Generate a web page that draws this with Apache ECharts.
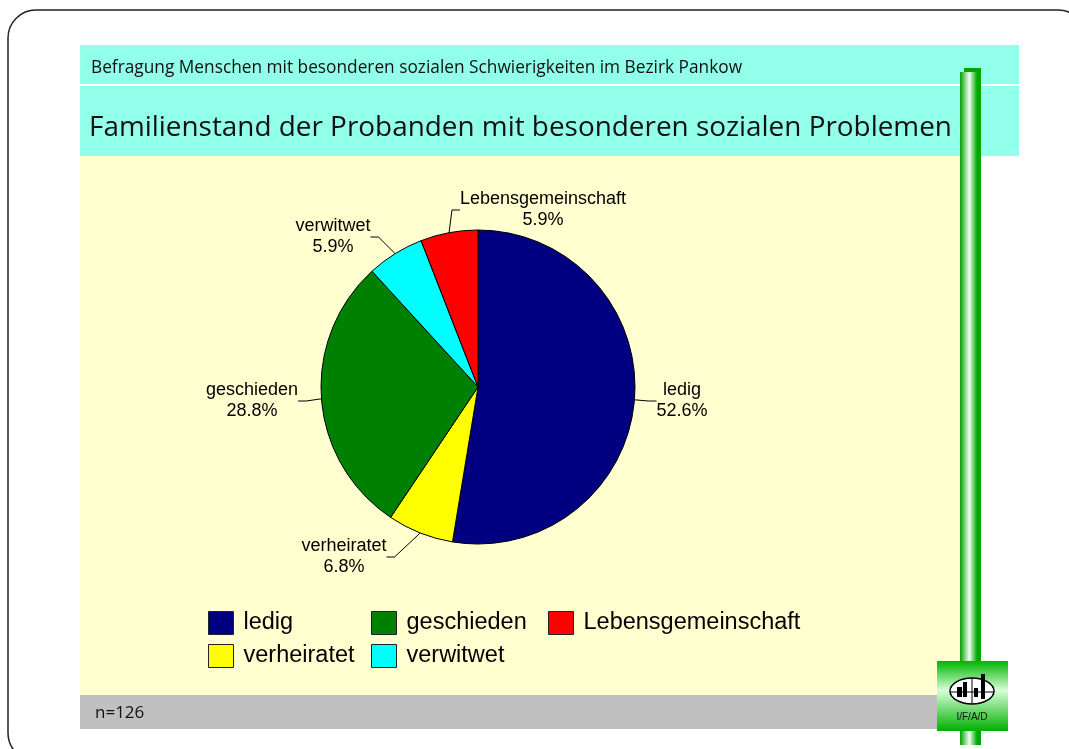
<!DOCTYPE html>
<html>
<head>
<meta charset="utf-8">
<script src="https://cdn.jsdelivr.net/npm/echarts@6/dist/echarts.min.js"></script>
<style>
  html, body { margin: 0; padding: 0; background: #fff; }
  #main { width: 1069px; height: 749px; }
</style>
</head>
<body>
<div id="main"></div>
<script>
// Daten
var categories = ['ledig', 'verheiratet', 'geschieden', 'verwitwet', 'Lebensgemeinschaft'];
var shares = [52.6, 6.8, 28.8, 5.9, 5.9];
var legendRows = [['ledig', 'geschieden', 'Lebensgemeinschaft'], ['verheiratet', 'verwitwet']];
var colors = ['#000080', '#FFFF00', '#008000', '#00FFFF', '#FF0000'];

var headerFont = '"Open Sans", Lato, sans-serif';
var chartFont = '"Liberation Sans", Arial, sans-serif';

// Lage der Beschriftungen (Mittelpunkt des zweizeiligen Textes), wie im Original
var labelPos = {
  'ledig': [682, 401],
  'verheiratet': [344, 557],
  'geschieden': [252, 401],
  'verwitwet': [333, 237],
  'Lebensgemeinschaft': [543, 210]
};

var chart = echarts.init(document.getElementById('main'));

// Legende: eine Komponente je Eintrag, damit die Spalten wie im Original stehen
var colX = [208, 371, 548];
var rowY = [611, 644];
var legends = [];
legendRows.forEach(function (row, r) {
  row.forEach(function (name, c) {
    legends.push({
      data: [name],
      left: colX[c],
      top: rowY[r],
      padding: 0,
      icon: 'rect',
      itemWidth: 25,
      itemHeight: 23,
      selectedMode: false,
      itemStyle: { borderColor: '#222', borderWidth: 1 },
      textStyle: { fontFamily: chartFont, fontSize: 23.5, color: '#000', padding: [5, 0, 0, 5] }
    });
  });
});

var grad = function (stops, vertical) {
  return new echarts.graphic.LinearGradient(0, 0, vertical ? 0 : 1, vertical ? 1 : 0, stops);
};

chart.setOption({
  animation: false,
  color: colors,
  title: [
    {
      text: 'Befragung Menschen mit besonderen sozialen Schwierigkeiten im Bezirk Pankow',
      left: 91, top: 60, padding: 0,
      textStyle: { fontFamily: headerFont, fontSize: 17.3, fontWeight: 'normal', color: '#111' }
    },
    {
      text: 'Familienstand der Probanden mit besonderen sozialen Problemen',
      left: 89, top: 114, padding: 0,
      textStyle: { fontFamily: headerFont, fontSize: 27.9, fontWeight: 'normal', color: '#111' }
    },
    {
      text: 'n=126',
      left: 95, top: 705, padding: 0,
      textStyle: { fontFamily: headerFont, fontSize: 17, fontWeight: 'normal', color: '#111' }
    }
  ],
  legend: legends,
  graphic: [
    { type: 'rect', shape: { x: 8, y: 10, width: 1078, height: 751, r: 28 },
      style: { fill: '#fff', stroke: '#222', lineWidth: 1.5 } },
    { type: 'rect', shape: { x: 80, y: 45, width: 939, height: 111 }, style: { fill: '#91FFE9' } },
    { type: 'rect', shape: { x: 80, y: 84, width: 939, height: 2 }, style: { fill: '#fff' } },
    { type: 'rect', shape: { x: 80, y: 156, width: 880, height: 539 }, style: { fill: '#FFFFD0' } },
    { type: 'rect', shape: { x: 80, y: 695, width: 857, height: 34 }, style: { fill: '#C0C0C0' } },
    // gruene Saeule
    { type: 'rect', shape: { x: 964, y: 68, width: 17, height: 677 }, style: { fill: '#00A800' } },
    { type: 'rect', shape: { x: 960, y: 72, width: 17, height: 673 },
      style: { fill: grad([{ offset: 0, color: '#00A000' }, { offset: 0.55, color: '#F4FFF4' }, { offset: 1, color: '#00A800' }]) } },
    // Logo
    { type: 'rect', shape: { x: 937, y: 661, width: 71, height: 70 },
      style: { fill: grad([{ offset: 0, color: '#00B400' }, { offset: 0.42, color: '#D8FFD8' }, { offset: 1, color: '#00B000' }], true) } },
    { type: 'ellipse', shape: { cx: 972, cy: 691, rx: 22, ry: 13 }, style: { fill: '#fff', stroke: '#000', lineWidth: 1.5 } },
    { type: 'rect', shape: { x: 957, y: 687, width: 5, height: 10 }, style: { fill: '#000' } },
    { type: 'rect', shape: { x: 963, y: 682, width: 4, height: 15 }, style: { fill: '#000' } },
    { type: 'rect', shape: { x: 974, y: 688, width: 4, height: 9 }, style: { fill: '#000' } },
    { type: 'rect', shape: { x: 981, y: 674, width: 4, height: 25 }, style: { fill: '#000' } },
    { type: 'line', shape: { x1: 951, y1: 692, x2: 993, y2: 692 }, style: { stroke: '#000', lineWidth: 1 } },
    { type: 'line', shape: { x1: 972, y1: 678, x2: 972, y2: 704 }, style: { stroke: '#000', lineWidth: 1 } },
    { type: 'text', x: 972, y: 717,
      style: { text: 'I/F/A/D', fill: '#111', font: '10px ' + chartFont, textAlign: 'center', textVerticalAlign: 'middle' } }
  ],
  series: [{
    type: 'pie',
    center: [478, 387],
    radius: 157,
    startAngle: 90,
    clockwise: true,
    data: categories.map(function (name, i) { return { name: name, value: shares[i] }; }),
    itemStyle: { borderColor: '#000', borderWidth: 1 },
    label: {
      show: true,
      position: 'outside',
      formatter: function (p) { return p.name + '\n' + p.value.toFixed(1) + '%'; },
      fontFamily: chartFont,
      fontSize: 18,
      lineHeight: 21,
      color: '#000'
    },
    labelLine: { show: true, length: 10, length2: 8, lineStyle: { color: '#000', width: 1 } },
    labelLayout: function (params) {
      var p = labelPos[categories[params.dataIndex]];
      return { x: p[0], y: p[1], align: 'center', verticalAlign: 'middle' };
    },
    emphasis: { disabled: true }
  }]
});
</script>
</body>
</html>
